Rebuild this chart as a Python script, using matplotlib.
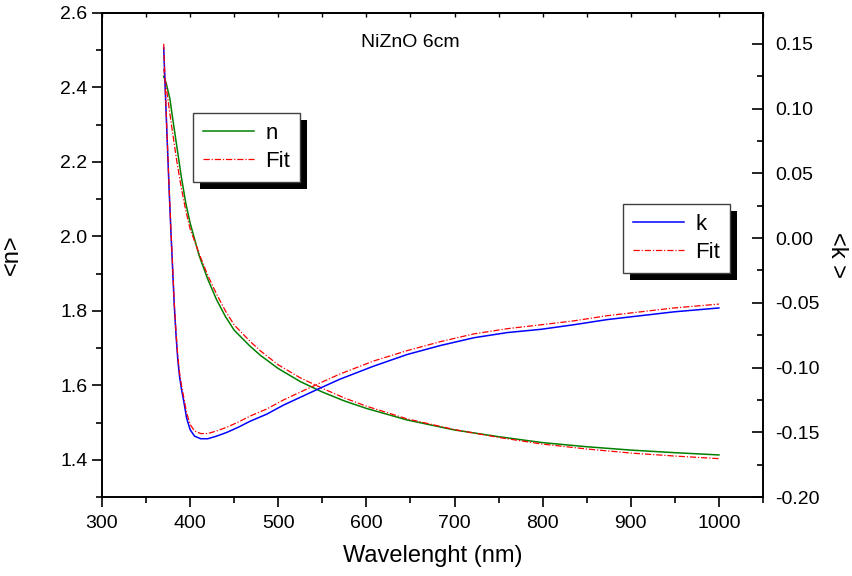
import matplotlib
matplotlib.use("Agg")
import matplotlib.pyplot as plt
from matplotlib.ticker import MultipleLocator, FormatStrFormatter
from matplotlib.patches import Rectangle
from matplotlib.transforms import IdentityTransform

plt.rcParams['font.family'] = ['Liberation Sans', 'DejaVu Sans']

# ---- data ----
wl_n = [370, 373, 377, 380, 385, 390, 395, 400, 410, 420, 430, 440, 450, 468, 480,
        500, 525, 550, 575, 600, 646, 700, 750, 800, 850, 900, 950, 1000]
n_meas = [2.43, 2.41, 2.37, 2.32, 2.24, 2.16, 2.09, 2.036, 1.95, 1.885, 1.83, 1.785, 1.748,
          1.705, 1.68, 1.645, 1.61, 1.582, 1.558, 1.538, 1.507, 1.48, 1.462, 1.446,
          1.435, 1.426, 1.419, 1.413]
n_fit = [2.45, 2.40, 2.33, 2.28, 2.20, 2.13, 2.07, 2.02, 1.955, 1.895, 1.845, 1.80, 1.762,
         1.718, 1.692, 1.655, 1.62, 1.592, 1.566, 1.544, 1.510, 1.481, 1.460, 1.442,
         1.429, 1.418, 1.410, 1.403]

wl_k = [370, 372, 374, 376, 378, 380, 382, 384, 386, 388, 390, 393, 396, 400, 405, 412,
        420, 430, 442, 455, 468, 487, 506, 525, 544, 570, 608, 646, 684, 722, 760, 798,
        835, 873, 911, 949, 1000]
k_meas = [0.147, 0.11, 0.075, 0.04, 0.008, -0.022, -0.052, -0.075, -0.094, -0.107, -0.116,
          -0.127, -0.139, -0.148, -0.153, -0.155, -0.155, -0.153, -0.150, -0.146, -0.1415,
          -0.136, -0.129, -0.123, -0.117, -0.109, -0.099, -0.090, -0.083, -0.077, -0.073,
          -0.0705, -0.067, -0.063, -0.060, -0.057, -0.054]
k_fit = [0.150, 0.112, 0.077, 0.042, 0.010, -0.020, -0.050, -0.073, -0.091, -0.104, -0.113,
         -0.124, -0.135, -0.144, -0.149, -0.151, -0.151, -0.149, -0.146, -0.142, -0.1375,
         -0.132, -0.125, -0.119, -0.113, -0.105, -0.095, -0.087, -0.080, -0.074, -0.070,
         -0.067, -0.064, -0.060, -0.057, -0.054, -0.051]

title = "NiZnO 6cm"
xlabel = "Wavelenght (nm)"
ylabel_left = "<n>"
ylabel_right = "<k >"

# ---- figure ----
fig = plt.figure(figsize=(8.53, 5.76), dpi=100)
ax = fig.add_axes([102/853, 1-497/576, 661/853, 484/576])
ax2 = ax.twinx()

lw = 1.1
fit_ls = (0, (5, 1.5, 1, 1.5))
l_n, = ax.plot(wl_n, n_meas, color='#008000', lw=lw, label='n')
l_nf, = ax.plot(wl_n, n_fit, color='#ff0000', lw=0.9, ls=fit_ls, label='Fit')
l_k, = ax2.plot(wl_k, k_meas, color='#0000ff', lw=lw, label='k')
l_kf, = ax2.plot(wl_k, k_fit, color='#ff0000', lw=0.9, ls=fit_ls, label='Fit')

ax.set_xlim(300, 1050)
ax.set_ylim(1.3, 2.6)
ax2.set_ylim(-0.20, 0.1738)

ax.xaxis.set_major_locator(MultipleLocator(100))
ax.xaxis.set_minor_locator(MultipleLocator(50))
ax.yaxis.set_major_locator(MultipleLocator(0.2))
ax.yaxis.set_minor_locator(MultipleLocator(0.1))
ax2.yaxis.set_major_locator(MultipleLocator(0.05))
ax2.yaxis.set_minor_locator(MultipleLocator(0.025))
ax2.yaxis.set_major_formatter(FormatStrFormatter('%.2f'))
ax.yaxis.set_major_formatter(FormatStrFormatter('%.1f'))

for a in (ax, ax2):
    for s in a.spines.values():
        s.set_linewidth(1.2)

ax.tick_params(axis='both', which='major', direction='out', length=7, width=1.2,
               labelsize=14, right=False)
ax.tick_params(axis='x', which='major', pad=6)
ax.tick_params(axis='both', which='minor', direction='out', length=4, width=1.2, right=False)
ax2.tick_params(axis='y', which='major', direction='in', length=8, width=1.2, labelsize=14, pad=9)
ax2.tick_params(axis='y', which='minor', direction='in', length=4, width=1.2)

sec = ax.secondary_xaxis('top')
sec.xaxis.set_major_locator(MultipleLocator(100))
sec.xaxis.set_minor_locator(MultipleLocator(50))
sec.tick_params(which='both', direction='in', length=3, width=1.0, labeltop=False)
sec.spines['top'].set_linewidth(1.2)

ax.set_xlabel(xlabel, fontsize=17, labelpad=9)
ax.set_ylabel(ylabel_left, fontsize=17, labelpad=27)
ax2.set_ylabel(ylabel_right, fontsize=17, rotation=-90, labelpad=20)

ax.text(0.466, 0.94, title, transform=ax.transAxes, ha='center', va='center', fontsize=14)

leg_kw = dict(loc='upper left', fancybox=False, framealpha=1, edgecolor='#404040',
              fontsize=16, handlelength=2.3, borderaxespad=0, borderpad=0.45,
              labelspacing=0.32, handletextpad=0.5)
leg1 = ax2.legend([l_n, l_nf], ['n', 'Fit'], bbox_to_anchor=(0.1377, 0.7934), **leg_kw)
ax2.add_artist(leg1)
leg2 = ax2.legend([l_k, l_kf], ['k', 'Fit'], bbox_to_anchor=(0.788, 0.6054), **leg_kw)
for lg in (leg1, leg2):
    lg.get_frame().set_linewidth(1.0)

fig.canvas.draw()
rend = fig.canvas.get_renderer()
for lg in (leg1, leg2):
    bb = lg.get_frame().get_window_extent(rend)
    shadow = Rectangle((bb.x0 + 7, bb.y0 - 7), bb.width, bb.height,
                       transform=IdentityTransform(), facecolor='black',
                       edgecolor='none', zorder=4.9, clip_on=False)
    ax2.add_artist(shadow)

fig.savefig("out.png", dpi=100, facecolor='white')
